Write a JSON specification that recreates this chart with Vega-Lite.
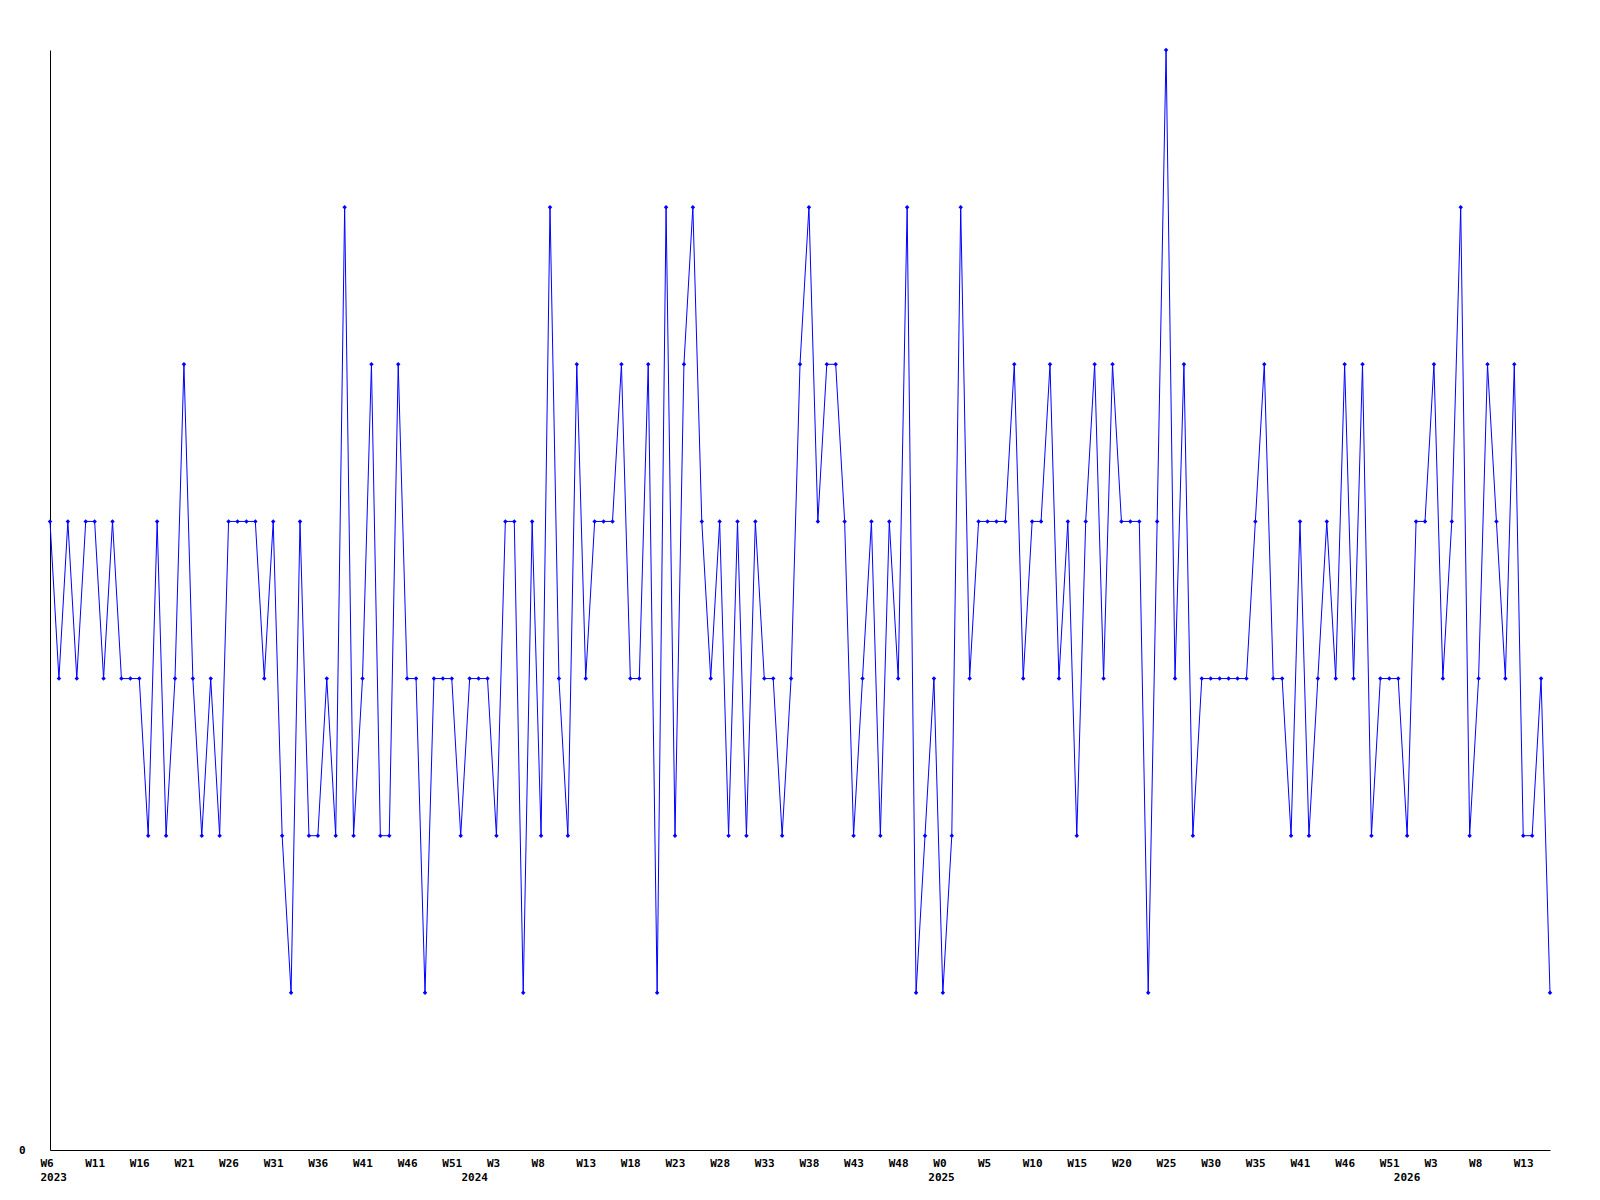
{
 "$schema": "https://vega.github.io/schema/vega-lite/v6.json",
 "width": 1500,
 "height": 1100,
 "autosize": {"type": "none"},
 "padding": {"left": 50, "top": 50, "right": 50, "bottom": 50},
 "background": "white",
 "config": {
  "view": {"stroke": null},
  "axis": {"labelFont": "DejaVu Sans Mono", "labelFontWeight": "bold", "labelFontSize": 11, "labelColor": "#000000", "domainColor": "#000000", "domainWidth": 1, "grid": false, "ticks": false, "tickSize": 0}
 },
 "data": {"values": [
  {"date":"2023-02-05","value":4},{"date":"2023-02-12","value":3},{"date":"2023-02-19","value":4},{"date":"2023-02-26","value":3},
  {"date":"2023-03-05","value":4},{"date":"2023-03-12","value":4},{"date":"2023-03-19","value":3},{"date":"2023-03-26","value":4},
  {"date":"2023-04-02","value":3},{"date":"2023-04-09","value":3},{"date":"2023-04-16","value":3},{"date":"2023-04-23","value":2},{"date":"2023-04-30","value":4},
  {"date":"2023-05-07","value":2},{"date":"2023-05-14","value":3},{"date":"2023-05-21","value":5},{"date":"2023-05-28","value":3},
  {"date":"2023-06-04","value":2},{"date":"2023-06-11","value":3},{"date":"2023-06-18","value":2},{"date":"2023-06-25","value":4},
  {"date":"2023-07-02","value":4},{"date":"2023-07-09","value":4},{"date":"2023-07-16","value":4},{"date":"2023-07-23","value":3},{"date":"2023-07-30","value":4},
  {"date":"2023-08-06","value":2},{"date":"2023-08-13","value":1},{"date":"2023-08-20","value":4},{"date":"2023-08-27","value":2},
  {"date":"2023-09-03","value":2},{"date":"2023-09-10","value":3},{"date":"2023-09-17","value":2},{"date":"2023-09-24","value":6},
  {"date":"2023-10-01","value":2},{"date":"2023-10-08","value":3},{"date":"2023-10-15","value":5},{"date":"2023-10-22","value":2},{"date":"2023-10-29","value":2},
  {"date":"2023-11-05","value":5},{"date":"2023-11-12","value":3},{"date":"2023-11-19","value":3},{"date":"2023-11-26","value":1},
  {"date":"2023-12-03","value":3},{"date":"2023-12-10","value":3},{"date":"2023-12-17","value":3},{"date":"2023-12-24","value":2},{"date":"2023-12-31","value":3},
  {"date":"2024-01-07","value":3},{"date":"2024-01-14","value":3},{"date":"2024-01-21","value":2},{"date":"2024-01-28","value":4},
  {"date":"2024-02-04","value":4},{"date":"2024-02-11","value":1},{"date":"2024-02-18","value":4},{"date":"2024-02-25","value":2},
  {"date":"2024-03-03","value":6},{"date":"2024-03-10","value":3},{"date":"2024-03-17","value":2},{"date":"2024-03-24","value":5},{"date":"2024-03-31","value":3},
  {"date":"2024-04-07","value":4},{"date":"2024-04-14","value":4},{"date":"2024-04-21","value":4},{"date":"2024-04-28","value":5},
  {"date":"2024-05-05","value":3},{"date":"2024-05-12","value":3},{"date":"2024-05-19","value":5},{"date":"2024-05-26","value":1},
  {"date":"2024-06-02","value":6},{"date":"2024-06-09","value":2},{"date":"2024-06-16","value":5},{"date":"2024-06-23","value":6},{"date":"2024-06-30","value":4},
  {"date":"2024-07-07","value":3},{"date":"2024-07-14","value":4},{"date":"2024-07-21","value":2},{"date":"2024-07-28","value":4},
  {"date":"2024-08-04","value":2},{"date":"2024-08-11","value":4},{"date":"2024-08-18","value":3},{"date":"2024-08-25","value":3},
  {"date":"2024-09-01","value":2},{"date":"2024-09-08","value":3},{"date":"2024-09-15","value":5},{"date":"2024-09-22","value":6},{"date":"2024-09-29","value":4},
  {"date":"2024-10-06","value":5},{"date":"2024-10-13","value":5},{"date":"2024-10-20","value":4},{"date":"2024-10-27","value":2},
  {"date":"2024-11-03","value":3},{"date":"2024-11-10","value":4},{"date":"2024-11-17","value":2},{"date":"2024-11-24","value":4},
  {"date":"2024-12-01","value":3},{"date":"2024-12-08","value":6},{"date":"2024-12-15","value":1},{"date":"2024-12-22","value":2},{"date":"2024-12-29","value":3},
  {"date":"2025-01-05","value":1},{"date":"2025-01-12","value":2},{"date":"2025-01-19","value":6},{"date":"2025-01-26","value":3},
  {"date":"2025-02-02","value":4},{"date":"2025-02-09","value":4},{"date":"2025-02-16","value":4},{"date":"2025-02-23","value":4},
  {"date":"2025-03-02","value":5},{"date":"2025-03-09","value":3},{"date":"2025-03-16","value":4},{"date":"2025-03-23","value":4},{"date":"2025-03-30","value":5},
  {"date":"2025-04-06","value":3},{"date":"2025-04-13","value":4},{"date":"2025-04-20","value":2},{"date":"2025-04-27","value":4},
  {"date":"2025-05-04","value":5},{"date":"2025-05-11","value":3},{"date":"2025-05-18","value":5},{"date":"2025-05-25","value":4},
  {"date":"2025-06-01","value":4},{"date":"2025-06-08","value":4},{"date":"2025-06-15","value":1},{"date":"2025-06-22","value":4},{"date":"2025-06-29","value":7},
  {"date":"2025-07-06","value":3},{"date":"2025-07-13","value":5},{"date":"2025-07-20","value":2},{"date":"2025-07-27","value":3},
  {"date":"2025-08-03","value":3},{"date":"2025-08-10","value":3},{"date":"2025-08-17","value":3},{"date":"2025-08-24","value":3},{"date":"2025-08-31","value":3},
  {"date":"2025-09-07","value":4},{"date":"2025-09-14","value":5},{"date":"2025-09-21","value":3},{"date":"2025-09-28","value":3},
  {"date":"2025-10-05","value":2},{"date":"2025-10-12","value":4},{"date":"2025-10-19","value":2},{"date":"2025-10-26","value":3},
  {"date":"2025-11-02","value":4},{"date":"2025-11-09","value":3},{"date":"2025-11-16","value":5},{"date":"2025-11-23","value":3},{"date":"2025-11-30","value":5},
  {"date":"2025-12-07","value":2},{"date":"2025-12-14","value":3},{"date":"2025-12-21","value":3},{"date":"2025-12-28","value":3},
  {"date":"2026-01-04","value":2},{"date":"2026-01-11","value":4},{"date":"2026-01-18","value":4},{"date":"2026-01-25","value":5},
  {"date":"2026-02-01","value":3},{"date":"2026-02-08","value":4},{"date":"2026-02-15","value":6},{"date":"2026-02-22","value":2},
  {"date":"2026-03-01","value":3},{"date":"2026-03-08","value":5},{"date":"2026-03-15","value":4},{"date":"2026-03-22","value":3},{"date":"2026-03-29","value":5},
  {"date":"2026-04-05","value":2},{"date":"2026-04-12","value":2},{"date":"2026-04-19","value":3},{"date":"2026-04-26","value":1}
 ]},
 "encoding": {
  "x": {
   "field": "date", "type": "temporal", "title": null,
   "scale": {"type": "utc", "nice": false, "domain": [{"year": 2023, "month": 2, "date": 5, "utc": true}, {"year": 2026, "month": 4, "date": 26, "utc": true}]},
   "axis": {
    "values": [
     {"year":2023,"month":2,"date":5,"utc":true},{"year":2023,"month":3,"date":12,"utc":true},{"year":2023,"month":4,"date":16,"utc":true},{"year":2023,"month":5,"date":21,"utc":true},{"year":2023,"month":6,"date":25,"utc":true},{"year":2023,"month":7,"date":30,"utc":true},{"year":2023,"month":9,"date":3,"utc":true},{"year":2023,"month":10,"date":8,"utc":true},{"year":2023,"month":11,"date":12,"utc":true},{"year":2023,"month":12,"date":17,"utc":true},
     {"year":2024,"month":1,"date":1,"utc":true},{"year":2024,"month":1,"date":21,"utc":true},{"year":2024,"month":2,"date":25,"utc":true},{"year":2024,"month":3,"date":31,"utc":true},{"year":2024,"month":5,"date":5,"utc":true},{"year":2024,"month":6,"date":9,"utc":true},{"year":2024,"month":7,"date":14,"utc":true},{"year":2024,"month":8,"date":18,"utc":true},{"year":2024,"month":9,"date":22,"utc":true},{"year":2024,"month":10,"date":27,"utc":true},{"year":2024,"month":12,"date":1,"utc":true},
     {"year":2025,"month":1,"date":1,"utc":true},{"year":2025,"month":1,"date":5,"utc":true},{"year":2025,"month":2,"date":9,"utc":true},{"year":2025,"month":3,"date":16,"utc":true},{"year":2025,"month":4,"date":20,"utc":true},{"year":2025,"month":5,"date":25,"utc":true},{"year":2025,"month":6,"date":29,"utc":true},{"year":2025,"month":8,"date":3,"utc":true},{"year":2025,"month":9,"date":7,"utc":true},{"year":2025,"month":10,"date":12,"utc":true},{"year":2025,"month":11,"date":16,"utc":true},{"year":2025,"month":12,"date":21,"utc":true},
     {"year":2026,"month":1,"date":1,"utc":true},{"year":2026,"month":1,"date":25,"utc":true},{"year":2026,"month":3,"date":1,"utc":true},{"year":2026,"month":4,"date":5,"utc":true}
    ],
    "labelExpr": "utcmonth(datum.value)==0 && utcdate(datum.value)==1 ? ['', utcFormat(datum.value, '%Y')] : (round((datum.value - utc(2023,1,5))/3024000000)==0 ? ['W6','2023'] : ['W6','W11','W16','W21','W26','W31','W36','W41','W46','W51','W3','W8','W13','W18','W23','W28','W33','W38','W43','W48','W0','W5','W10','W15','W20','W25','W30','W35','W41','W46','W51','W3','W8','W13'][round((datum.value - utc(2023,1,5))/3024000000)])",
    "labelAlign": "left",
    "labelBaseline": "top",
    "labelOffset": -10,
    "labelPadding": 7,
    "labelFlush": false,
    "labelOverlap": false,
    "labelBound": false,
    "labelLineHeight": 14
   }
  },
  "y": {
   "field": "value", "type": "quantitative", "title": null,
   "scale": {"domain": [0, 7], "nice": false},
   "axis": {"values": [0], "format": "d", "labelPadding": 25}
  }
 },
 "layer": [
  {"mark": {"type": "line", "color": "#0000ff", "strokeWidth": 1}},
  {"mark": {"type": "point", "shape": "diamond", "filled": true, "color": "#0000ff", "size": 20, "opacity": 1}}
 ]
}
